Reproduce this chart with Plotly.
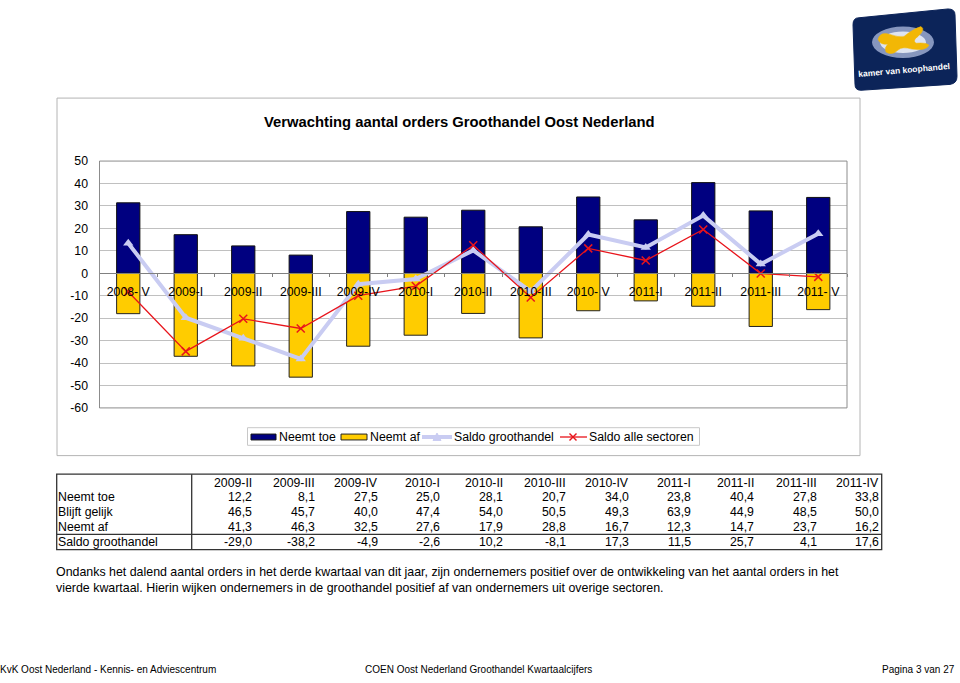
import plotly.graph_objects as go

# ---------------- data ----------------
categories = ["2008- V", "2009-I", "2009-II", "2009-III", "2009-IV", "2010-I", "2010-II",
              "2010-III", "2010- V", "2011-I", "2011-II", "2011-III", "2011- V"]
neemt_toe = [31.4, 17.2, 12.2, 8.1, 27.5, 25.0, 28.1, 20.7, 34.0, 23.8, 40.4, 27.8, 33.8]
neemt_af = [18.0, 37.0, 41.3, 46.3, 32.5, 27.6, 17.9, 28.8, 16.7, 12.3, 14.7, 23.7, 16.2]
saldo_groothandel = [13.4, -19.8, -29.0, -38.2, -4.9, -2.6, 10.2, -8.1, 17.3, 11.5, 25.7, 4.1, 17.6]
saldo_alle_sectoren = [-8.2, -34.8, -20.3, -24.6, -10.0, -5.7, 12.5, -10.8, 11.1, 5.7, 19.5, -0.1, -1.6]

table_cols = ["2009-II", "2009-III", "2009-IV", "2010-I", "2010-II", "2010-III", "2010-IV",
              "2011-I", "2011-II", "2011-III", "2011-IV"]
blijft_gelijk = [46.5, 45.7, 40.0, 47.4, 54.0, 50.5, 49.3, 63.9, 44.9, 48.5, 50.0]
table_rows = [
    ("Neemt toe", neemt_toe[2:]),
    ("Blijft gelijk", blijft_gelijk),
    ("Neemt af", neemt_af[2:]),
    ("Saldo groothandel", saldo_groothandel[2:]),
]
y_ticks = list(range(-60, 51, 10))

series_names = ["Neemt toe", "Neemt af", "Saldo groothandel", "Saldo alle sectoren"]
title = "Verwachting aantal orders Groothandel Oost Nederland"
paragraph = [
    "Ondanks het dalend aantal orders in het derde kwartaal van dit jaar, zijn ondernemers positief over de ontwikkeling van het aantal orders in het",
    "vierde kwartaal. Hierin wijken ondernemers in de groothandel positief af van ondernemers uit overige sectoren.",
]
footer_left = "KvK Oost Nederland - Kennis- en Adviescentrum"
footer_center = "COEN Oost Nederland Groothandel Kwartaalcijfers"
footer_right = "Pagina 3 van 27"

# ---------------- styles ----------------
NAVY = "#000080"
GOLD = "#FFCC00"
LAV = "#C9CCF2"
RED = "#E8141B"
FONT = "Arial, Liberation Sans, sans-serif"

# ---------------- geometry helpers ----------------
W, H = 960, 683
def px(x):
    return x / W
def py(y):
    return 1 - y / H

xd = [px(99.5), px(847)]
yd = [py(409.3), py(157.3)]
zero_pos = yd[0] + (0 - (-60)) / 110 * (yd[1] - yd[0])

fig = go.Figure()
fig.add_trace(go.Bar(x=categories, y=neemt_toe, name=series_names[0],
                     marker=dict(color=NAVY, line=dict(color="#111111", width=1))))
fig.add_trace(go.Bar(x=categories, y=[-v for v in neemt_af], name=series_names[1],
                     marker=dict(color=GOLD, line=dict(color="#222222", width=1))))
fig.add_trace(go.Scatter(x=categories, y=saldo_groothandel, name=series_names[2],
                         mode="lines+markers",
                         line=dict(color=LAV, width=4),
                         marker=dict(symbol="triangle-up", size=9, color=LAV)))
fig.add_trace(go.Scatter(x=categories, y=saldo_alle_sectoren, name=series_names[3],
                         mode="lines+markers",
                         line=dict(color=RED, width=1.3),
                         marker=dict(symbol="x-thin", size=8,
                                     line=dict(color=RED, width=1.5))))

shapes = []
annotations = []

def text(t, x, y, xanchor="left", size=12.3, bold=False, color="black", angle=0):
    annotations.append(dict(text=("<b>" + t + "</b>") if bold else t, xref="paper", yref="paper",
                            x=px(x), y=py(y), xanchor=xanchor, yanchor="middle",
                            showarrow=False, textangle=angle,
                            font=dict(family=FONT, size=size, color=color)))

def line(x0, y0, x1, y1, color, width):
    shapes.append(dict(type="line", xref="paper", yref="paper",
                       x0=px(x0), x1=px(x1), y0=py(y0), y1=py(y1),
                       line=dict(color=color, width=width)))

def rect(x0, y0, x1, y1, color, width, fill=None, layer="above"):
    d = dict(type="rect", xref="paper", yref="paper",
             x0=px(x0), x1=px(x1), y0=py(y1), y1=py(y0),
             line=dict(color=color, width=width), layer=layer)
    if fill:
        d["fillcolor"] = fill
    shapes.append(d)

# chart frame
rect(57, 93, 860, 458, "#B4B4B4", 1, layer="below")
# plot area border
shapes.append(dict(type="rect", xref="paper", yref="paper",
                   x0=xd[0], x1=xd[1], y0=yd[0], y1=yd[1],
                   line=dict(color="#8C8C8C", width=1)))

# title
text(title, 459, 117, xanchor="center", size=14.8, bold=True)

# ---------------- legend (drawn) ----------------
rect(247.5, 429.5, 699.5, 447.5, "#C8C8C8", 1, fill="white")
ly = 439
rect(251, 436, 276, 442, "#111111", 1, fill=NAVY)
text(series_names[0], 277, ly)
rect(341, 436, 367, 442, "#222222", 1, fill=GOLD)
text(series_names[1], 368, ly)
line(422, ly, 452, ly, LAV, 4)
tri = f"M {px(433)},{py(ly + 3.5)} L {px(441)},{py(ly + 3.5)} L {px(437)},{py(ly - 4)} Z"
shapes.append(dict(type="path", xref="paper", yref="paper", path=tri,
                   fillcolor=LAV, line=dict(color=LAV, width=1)))
text(series_names[2], 452, ly)
line(560, ly, 587, ly, RED, 1.3)
line(569.5, ly - 3.5, 576.5, ly + 3.5, RED, 1.5)
line(569.5, ly + 3.5, 576.5, ly - 3.5, RED, 1.5)
text(series_names[3], 587, ly)

# ---------------- table ----------------
t_left, t_right, t_top, t_bot = 56.7, 881.7, 477, 554
t_sep_x, t_sep_y = 191.7, 538.5
rect(t_left, t_top, t_right, t_bot, "#333333", 1.3)
line(t_sep_x, t_top, t_sep_x, t_bot, "#333333", 1.3)
line(t_left, t_sep_y, t_right, t_sep_y, "#333333", 1.3)

col_right0, col_step = 254.3, 62.7
row_y = [500, 515.2, 530.5, 546.5]
header_y = 485.5
for i, c in enumerate(table_cols):
    text(c, col_right0 + i * col_step, header_y, xanchor="right")
for r, (label, vals) in enumerate(table_rows):
    text(label, 56, row_y[r])
    for i, v in enumerate(vals):
        text(f"{v:.1f}".replace(".", ","), col_right0 + i * col_step, row_y[r], xanchor="right")

# paragraph
for k, ln in enumerate(paragraph):
    text(ln, 54, 577 + 16 * k, size=12.4)

# footer
text(footer_left, -2, 676, size=10)
text(footer_center, 363, 676, size=10)
text(footer_right, 957, 676, xanchor="right", size=10)

# ---------------- logo ----------------
def pp(x, y):
    return f"{px(x)},{py(y)}"
logo_path = ("M " + pp(859, 11) + " Q " + pp(853, 11) + " " + pp(853, 18) +
             " L " + pp(855, 79) + " Q " + pp(855, 85) + " " + pp(861, 85) +
             " L " + pp(950, 79) + " Q " + pp(957, 78) + " " + pp(957, 71) +
             " L " + pp(955, 8) + " Q " + pp(955, 2) + " " + pp(948, 2) + " Z")
shapes.append(dict(type="path", xref="paper", yref="paper", path=logo_path,
                   fillcolor="#0C2459", line=dict(color="#0C2459", width=1)))
shapes.append(dict(type="circle", xref="paper", yref="paper",
                   x0=px(872), x1=px(934), y0=py(52), y1=py(20),
                   fillcolor="#AFBCE0", opacity=0.75, line=dict(width=0)))
shapes.append(dict(type="circle", xref="paper", yref="paper",
                   x0=px(880), x1=px(926), y0=py(47), y1=py(25),
                   fillcolor="#E8ECF6", opacity=0.9, line=dict(width=0)))
yellow = ("M " + pp(878, 33) + " Q " + pp(880, 25) + " " + pp(890, 28) +
          " Q " + pp(898, 31) + " " + pp(904, 30) + " Q " + pp(914, 22) + " " + pp(921, 20) +
          " Q " + pp(926, 23) + " " + pp(918, 30) + " Q " + pp(912, 34) + " " + pp(916, 37) +
          " Q " + pp(926, 36) + " " + pp(929, 39) + " Q " + pp(926, 45) + " " + pp(912, 43) +
          " Q " + pp(902, 40) + " " + pp(898, 44) + " Q " + pp(892, 50) + " " + pp(886, 46) +
          " Q " + pp(884, 41) + " " + pp(888, 38) + " Q " + pp(880, 39) + " " + pp(878, 33) + " Z")
shapes.append(dict(type="path", xref="paper", yref="paper", path=yellow,
                   fillcolor="#F2B705", line=dict(color="#F2B705", width=0.5)))
text("kamer van koophandel", 904, 64, xanchor="center", size=8.5, bold=True,
     color="white", angle=-5)

fig.update_layout(
    width=W, height=H, autosize=False,
    margin=dict(l=0, r=0, t=0, b=0, pad=0),
    paper_bgcolor="white", plot_bgcolor="white",
    barmode="relative", bargap=0.595,
    showlegend=False,
    xaxis=dict(domain=xd, anchor="free", position=zero_pos, type="category",
               showline=True, linecolor="#808080", linewidth=1,
               ticks="outside", ticklen=3, tickcolor="#808080", tickson="boundaries",
               showgrid=False, ticklabelstandoff=7,
               tickfont=dict(family=FONT, size=12.3, color="black"),
               range=[-0.5, len(categories) - 0.5]),
    yaxis=dict(domain=yd, range=[-60, 50], tickvals=y_ticks, ticktext=[str(v) for v in y_ticks],
               showgrid=True, gridcolor="#C0C0C0", gridwidth=1, zeroline=False,
               showline=True, linecolor="#808080", linewidth=1,
               ticks="", ticklabelstandoff=8,
               tickfont=dict(family=FONT, size=12.3, color="black")),
    shapes=shapes, annotations=annotations,
    font=dict(family=FONT),
)

post = ("document.body.style.margin='0';document.body.style.overflow='hidden';"
        "document.documentElement.style.overflow='hidden';")
fig.write_html("out.html", config={"displayModeBar": False}, post_script=post)
